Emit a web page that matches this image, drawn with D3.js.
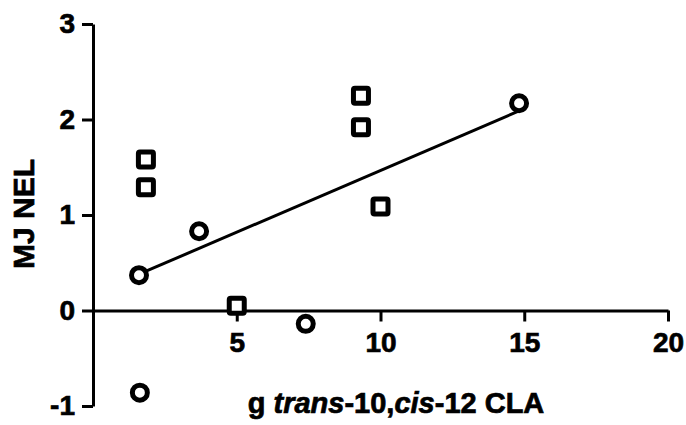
<!DOCTYPE html>
<html lang="en">
    <head>
        <meta charset="utf-8">
        <title>MJ NEL vs trans-10,cis-12 CLA</title>
        <script src="https://d3js.org/d3.v7.min.js"></script>
        <style type="text/css">
            body { margin: 0; background: #fff; }
            text { font-family: Arial, "Liberation Sans", sans-serif; font-weight: bold; }
        </style>
    </head>
    <body>
        <script type="text/javascript">

        // Data
        const squareX = [1.84, 1.84, 5.0, 9.32, 9.32, 10.0];
        const squareY = [1.58, 1.29, 0.05, 2.25, 1.92, 1.09];

        const circleX = [1.6, 1.63, 3.69, 7.4, 14.82];
        const circleY = [0.37, -0.86, 0.83, -0.14, 2.17];

        const fitX = [1.6, 14.82];
        const fitY = [0.38, 2.09];

        const xTicks = [5, 10, 15, 20];
        const yTicks = [-1, 0, 1, 2, 3];

        // Constants
        const w = 686;
        const h = 425;

        const svg = d3.select("body")
                      .append("svg")
                      .attr("width", w)
                      .attr("height", h);

        const xScale = d3.scaleLinear()
                         .domain([0, 20])
                         .range([93, 668]);

        const yScale = d3.scaleLinear()
                         .domain([-1, 3])
                         .range([406, 24]);

        // bottom axis sits on y = 0
        const bottomAxis = d3.axisBottom(xScale)
                             .tickValues(xTicks)
                             .tickSize(11)
                             .tickSizeOuter(0)
                             .tickPadding(11)
                             .tickFormat(d => String(d));

        const gx = svg.append("g")
                      .attr("transform", "translate(0," + yScale(0) + ")")
                      .call(bottomAxis);

        // left axis
        const leftAxis = d3.axisLeft(yScale)
                           .tickValues(yTicks)
                           .tickSize(11)
                           .tickSizeOuter(0)
                           .tickPadding(7)
                           .tickFormat(d => String(d));

        const gy = svg.append("g")
                      .attr("transform", "translate(" + xScale(0) + ",0)")
                      .call(leftAxis);

        [gx, gy].forEach(g => {
            g.select(".domain").attr("stroke", "#000").attr("stroke-width", 3);
            g.selectAll(".tick line").attr("stroke", "#000").attr("stroke-width", 3);
            g.selectAll(".tick text")
             .attr("fill", "#000")
             .attr("stroke", "#000")
             .attr("stroke-width", 0.7)
             .attr("font-size", "28px")
             .attr("font-family", "Arial, 'Liberation Sans', sans-serif")
             .attr("font-weight", "bold");
        });

        // fitted line
        const line = d3.line()
                       .x(d => xScale(d[0]))
                       .y(d => yScale(d[1]));

        svg.append("path")
           .datum(d3.zip(fitX, fitY))
           .attr("d", line)
           .attr("fill", "none")
           .attr("stroke", "#000")
           .attr("stroke-width", 3);

        // squares
        const sq = 15;
        svg.selectAll("rect.sq")
           .data(d3.zip(squareX, squareY))
           .enter()
           .append("rect")
           .attr("class", "sq")
           .attr("x", d => xScale(d[0]) - sq / 2)
           .attr("y", d => yScale(d[1]) - sq / 2)
           .attr("width", sq)
           .attr("height", sq)
           .attr("rx", 1.5)
           .attr("fill", "#fff")
           .attr("stroke", "#000")
           .attr("stroke-width", 5);

        // circles
        svg.selectAll("circle")
           .data(d3.zip(circleX, circleY))
           .enter()
           .append("circle")
           .attr("cx", d => xScale(d[0]))
           .attr("cy", d => yScale(d[1]))
           .attr("r", 7.5)
           .attr("fill", "#fff")
           .attr("stroke", "#000")
           .attr("stroke-width", 5);

        // x axis title
        const xt = svg.append("text")
                      .attr("x", 396)
                      .attr("y", 413)
                      .attr("text-anchor", "middle")
                      .attr("font-size", "29px")
                      .attr("fill", "#000")
                      .attr("stroke", "#000")
                      .attr("stroke-width", 0.7);
        xt.append("tspan").text("g ");
        xt.append("tspan").attr("font-style", "italic").text("trans");
        xt.append("tspan").text("-10,");
        xt.append("tspan").attr("font-style", "italic").text("cis");
        xt.append("tspan").text("-12 CLA");

        // y axis title
        svg.append("text")
           .attr("transform", "translate(34,214) rotate(-90)")
           .attr("text-anchor", "middle")
           .attr("font-size", "30px")
           .attr("fill", "#000")
           .attr("stroke", "#000")
           .attr("stroke-width", 0.7)
           .text("MJ NEL");

        </script>
    </body>
</html>
